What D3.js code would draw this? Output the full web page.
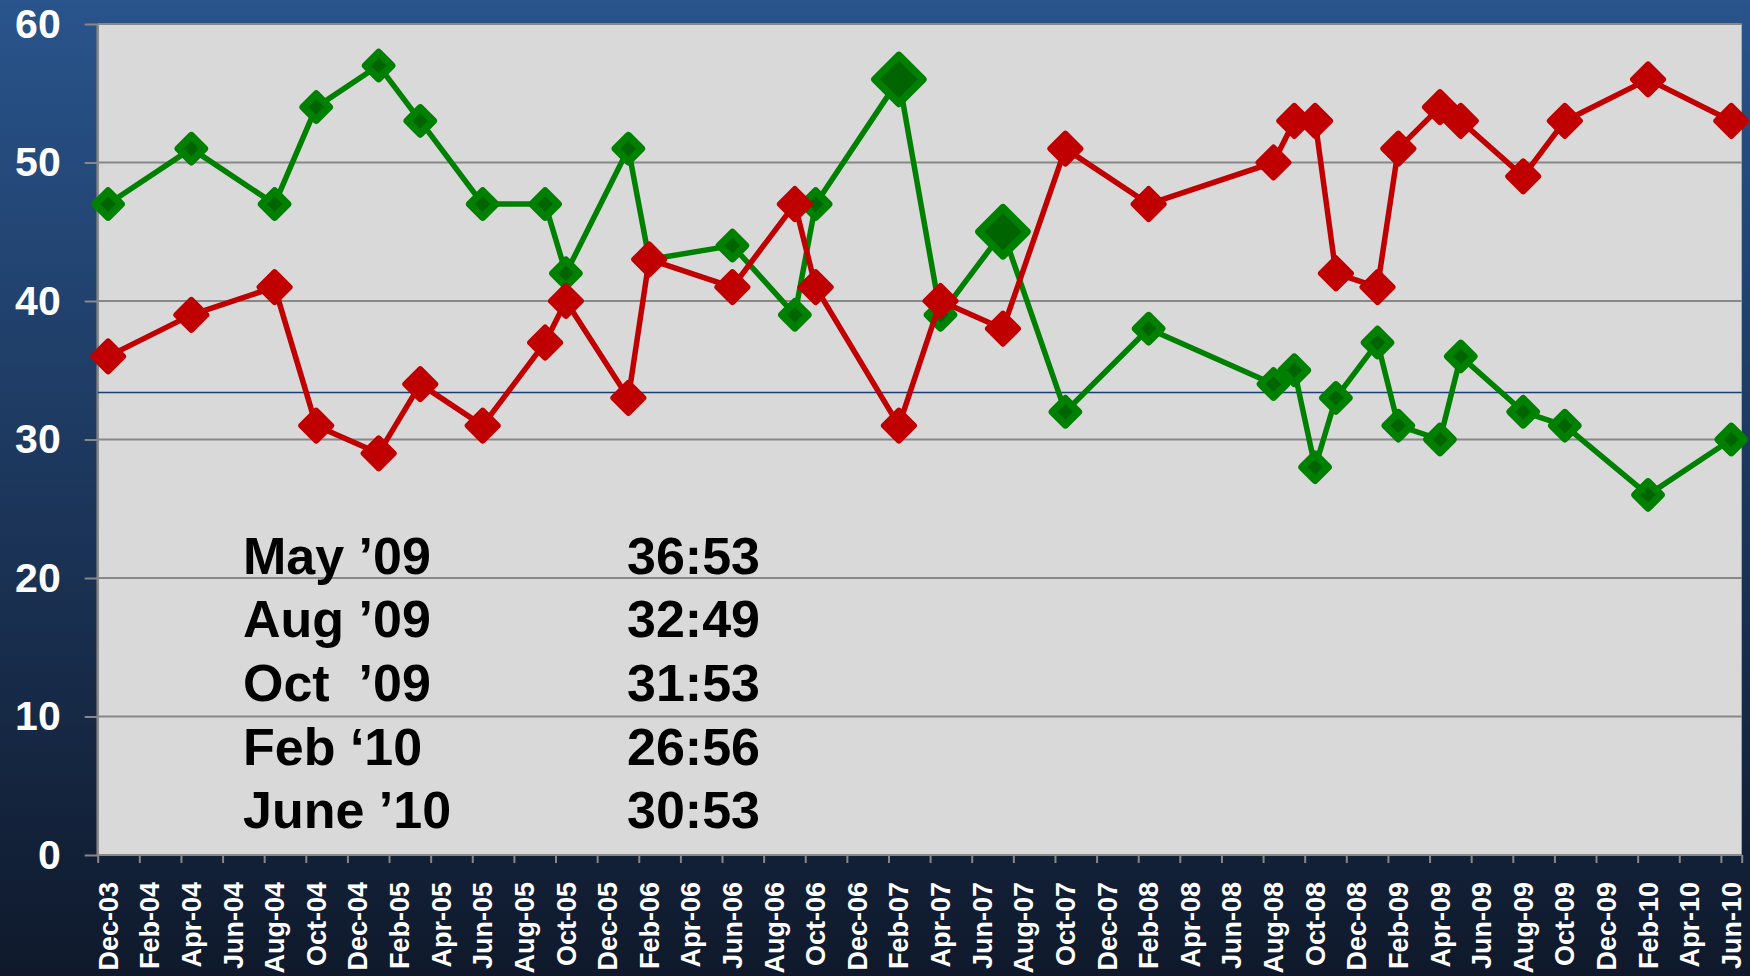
<!DOCTYPE html>
<html>
<head>
<meta charset="utf-8">
<script src="https://cdn.jsdelivr.net/npm/d3@7"></script>
<style>
    body { margin: 0; background: #0f192b; }
    svg { display: block; font-family: "Liberation Sans", Arial, sans-serif; }
</style>
</head>
<body>
<div id="chart"></div>
<script>
// poll dates (month-year) and the two series
let pollDates = ["Dec-03","Apr-04","Aug-04","Oct-04","Jan-05","Mar-05","Jun-05","Sep-05","Oct-05","Jan-06",
    "Feb-06","Jun-06","Sep-06","Oct-06","Feb-07","Apr-07","Jul-07","Oct-07","Feb-08","Aug-08",
    "Sep-08","Oct-08","Nov-08","Jan-09","Feb-09","Apr-09","May-09","Aug-09","Oct-09","Feb-10","Jun-10"];
let greenValues = [47,51,47,54,57,53,47,47,42,51,43,44,39,47,56,39,45,32,38,34,35,28,33,37,31,30,36,32,31,26,30];
let redValues = [36,39,41,31,29,34,31,37,40,33,43,41,47,41,31,40,38,51,47,50,53,53,42,41,51,54,53,49,53,56,53];
let highlightDates = ["Feb-07","Jul-07"];

let tickLabels = ["Dec-03","Feb-04","Apr-04","Jun-04","Aug-04","Oct-04","Dec-04","Feb-05","Apr-05","Jun-05",
    "Aug-05","Oct-05","Dec-05","Feb-06","Apr-06","Jun-06","Aug-06","Oct-06","Dec-06","Feb-07",
    "Apr-07","Jun-07","Aug-07","Oct-07","Dec-07","Feb-08","Apr-08","Jun-08","Aug-08","Oct-08",
    "Dec-08","Feb-09","Apr-09","Jun-09","Aug-09","Oct-09","Dec-09","Feb-10","Apr-10","Jun-10"];
let yTicks = [0,10,20,30,40,50,60];
let refLineValue = 33.4;

let tableDates = ["May \u201909","Aug \u201909","Oct  \u201909","Feb \u201810","June \u201910"];
let tableScores = ["36:53","32:49","31:53","26:56","30:53"];

let WIDTH = 1750, HEIGHT = 976;
let margin = {left: 97.7, top: 24, right: 8.3, bottom: 121};
let innerW = WIDTH - margin.left - margin.right;
let innerH = HEIGHT - margin.top - margin.bottom;

let parseMonth = d3.timeParse("%b-%y");
let fmtMonth = d3.timeFormat("%b-%y");
let months = d3.timeMonth.range(new Date(2003, 11, 1), new Date(2010, 6, 1)).map(fmtMonth);

let svg = d3.select("#chart").append("svg")
    .attr("width", WIDTH)
    .attr("height", HEIGHT);

let grad = svg.append("defs").append("linearGradient")
    .attr("id", "bg").attr("x1", 0).attr("y1", 0).attr("x2", 0).attr("y2", 1);
grad.append("stop").attr("offset", 0).attr("stop-color", "#29548c");
grad.append("stop").attr("offset", 1).attr("stop-color", "#0f192b");

svg.append("rect").attr("width", WIDTH).attr("height", HEIGHT).attr("fill", "url(#bg)");

let g = svg.append("g")
    .attr("transform", "translate(" + margin.left + "," + margin.top + ")");

let xScale = d3.scaleBand().domain(months).range([0, innerW]).padding(0);
let xEdge = d3.scaleLinear().domain([0, months.length]).range([0, innerW]);
let yScale = d3.scaleLinear().domain([0, 60]).range([innerH, 0]);
let xPos = d => xScale(d) + xScale.bandwidth() / 2;

g.append("rect")
    .attr("width", innerW).attr("height", innerH)
    .attr("fill", "#d9d9d9");

// grid + y axis
g.append("g")
    .call(d3.axisLeft(yScale).tickValues(yTicks).tickSize(13).tickPadding(24))
    .call(a => a.select(".domain").remove())
    .call(a => a.selectAll(".tick line").attr("stroke", "#888").attr("stroke-width", 2))
    .call(a => a.selectAll(".tick text")
        .attr("fill", "#fff").attr("font-size", 41).attr("font-weight", "bold")
        .attr("font-family", "Liberation Sans, Arial, sans-serif"));

g.append("g").selectAll("line.grid")
    .data(yTicks)
    .enter().append("line")
    .attr("x1", 0).attr("x2", innerW)
    .attr("y1", d => yScale(d)).attr("y2", d => yScale(d))
    .attr("stroke", "#888").attr("stroke-width", 2);

g.append("line")
    .attr("x1", 0).attr("x2", 0).attr("y1", 0).attr("y2", innerH)
    .attr("stroke", "#888").attr("stroke-width", 2.5);

g.append("line")
    .attr("x1", 0).attr("x2", innerW)
    .attr("y1", yScale(refLineValue)).attr("y2", yScale(refLineValue))
    .attr("stroke", "#1f3d6e").attr("stroke-width", 1.5);

// x axis: ticks on 2-month boundaries, labels centred on the month
let edgeTicks = d3.range(0, months.length, 2).concat([months.length]);
g.append("g")
    .attr("transform", "translate(0," + innerH + ")")
    .call(d3.axisBottom(xEdge).tickValues(edgeTicks).tickSize(8).tickFormat(""))
    .call(a => a.select(".domain").remove())
    .call(a => a.selectAll(".tick line").attr("stroke", "#888").attr("stroke-width", 2));

g.append("g")
    .attr("transform", "translate(0," + innerH + ")")
    .call(d3.axisBottom(xScale).tickValues(tickLabels).tickSize(0))
    .call(a => a.select(".domain").remove())
    .call(a => a.selectAll(".tick text")
        .attr("fill", "#fff").attr("font-size", 27).attr("font-weight", "bold")
        .attr("font-family", "Liberation Sans, Arial, sans-serif")
        .attr("text-anchor", "end")
        .attr("dy", null)
        .attr("y", null)
        .attr("transform", "translate(9.6,27) rotate(-90)"));

// table of recent results
let table = g.append("g").attr("font-weight", "bold").attr("font-size", 52).attr("fill", "#000");
table.selectAll("text.date")
    .data(tableDates)
    .enter().append("text")
    .attr("class", "date")
    .attr("x", 243 - margin.left)
    .attr("y", (d, i) => 573.5 - margin.top + i * 63.7)
    .style("white-space", "pre")
    .attr("xml:space", "preserve")
    .text(d => d);
table.selectAll("text.score")
    .data(tableScores)
    .enter().append("text")
    .attr("class", "score")
    .attr("x", 627 - margin.left)
    .attr("y", (d, i) => 573.5 - margin.top + i * 63.7)
    .text(d => d);

// series
let lineGen = d3.line()
    .x(d => xPos(d.date))
    .y(d => yScale(d.value));

function diamond(r){
    return "M0," + (-r) + "L" + r + ",0L0," + r + "L" + (-r) + ",0Z";
}

function renderSeries(values, opts){
    let pts = pollDates.map((date, i) => ({date: date, value: values[i]}));
    let s = g.append("g");
    s.append("path")
        .datum(pts)
        .attr("d", lineGen)
        .attr("fill", "none")
        .attr("stroke", opts.line)
        .attr("stroke-width", 5.5)
        .attr("stroke-linejoin", "round");
    s.selectAll("path.marker")
        .data(pts)
        .enter().append("path")
        .attr("class", "marker")
        .attr("transform", d => "translate(" + xPos(d.date) + "," + yScale(d.value) + ")")
        .attr("d", d => diamond(opts.radius(d)))
        .attr("fill", opts.fill)
        .attr("stroke", opts.line)
        .attr("stroke-width", opts.strokeWidth)
        .attr("stroke-linejoin", "round");
}

renderSeries(greenValues, {
    line: "#008000", fill: "#006400", strokeWidth: 7.5,
    radius: d => highlightDates.indexOf(d.date) >= 0 ? 24 : 13
});
renderSeries(redValues, {
    line: "#c00000", fill: "#c00000", strokeWidth: 6,
    radius: d => 15
});
</script>
</body>
</html>
